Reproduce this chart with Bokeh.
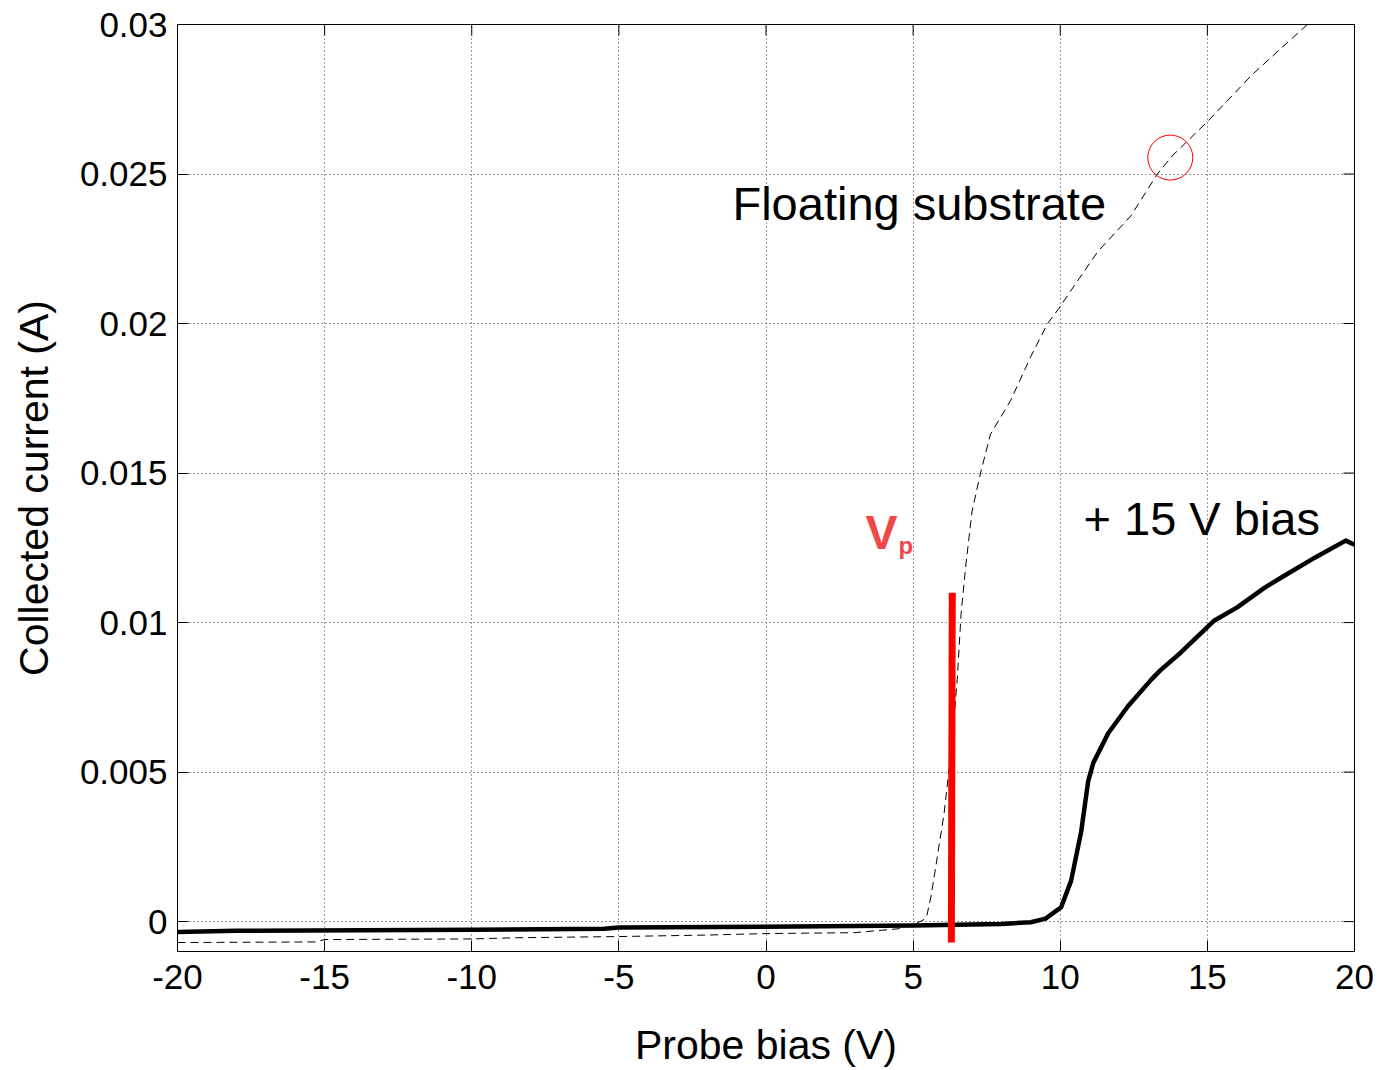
from bokeh.plotting import figure
from bokeh.models import FixedTicker, Range1d
from bokeh.core.properties import value
from bokeh.embed import file_html
from bokeh.resources import INLINE

# Floating substrate (dashed)
float_x = [-20, -15.3, -15.0, -10, -8.5, -5, -2, 0, 3, 4.5, 5.0, 5.3, 5.45, 5.6, 5.78, 6.05, 6.3, 6.5,
           6.63, 6.8, 7.0, 7.29, 7.63, 8.31, 9.0, 9.57, 9.95, 10.5, 11.27, 12.4, 13.3, 13.8,
           15.05, 16.5, 17.5, 18.4]
float_y = [-0.00070, -0.00068, -0.00060, -0.00058, -0.00054, -0.00050, -0.00045, -0.00040, -0.00037,
           -0.00024, -0.00010, 0.00003, 0.00013, 0.0008, 0.0019, 0.0036, 0.0058, 0.0081,
           0.0103, 0.0120, 0.0137, 0.0150, 0.0163, 0.01742, 0.0189, 0.0200, 0.0205, 0.0213, 0.0224,
           0.0236, 0.0250, 0.0256, 0.0268, 0.0283, 0.0292, 0.0300]

# +15 V bias (solid)
bias_x = [-20, -18, -10, -5.5, -5, 0, 5, 8, 9, 9.5, 10.03, 10.37, 10.71, 10.95, 11.12, 11.63, 12.3,
          13.1, 13.4, 14.1, 15.24, 16.0, 16.95, 17.5, 18.65, 19.7, 20]
bias_y = [-0.00035, -0.00031, -0.00027, -0.00024, -0.00020, -0.00017, -0.00013, -0.00008, -0.00002,
          0.00010, 0.00048, 0.00137, 0.0030, 0.0047, 0.0053, 0.0063, 0.0072, 0.0081, 0.0084,
          0.0090, 0.01007, 0.0105, 0.01117, 0.0115, 0.01217, 0.01274, 0.0126]

# Plasma potential marker
vp_x = [6.33, 6.30]
vp_y = [0.0110, -0.0007]
circle_x = [13.74]
circle_y = [0.02555]

x_ticks = [-20, -15, -10, -5, 0, 5, 10, 15, 20]
x_labels = ["-20", "-15", "-10", "-5", "0", "5", "10", "15", "20"]
y_ticks = [0, 0.005, 0.01, 0.015, 0.02, 0.025, 0.03]
y_labels = ["0", "0.005", "0.01", "0.015", "0.02", "0.025", "0.03"]

X0, X1 = -20, 20
Y0, Y1 = -0.001, 0.03
FONT = "Liberation Sans"
W, H = 1379, 1070
ML, MT, MR, MB = 177, 24, 25, 119
TICK = 11  # tick length, px

p = figure(width=W, height=H, output_backend="svg", toolbar_location=None,
           x_range=Range1d(X0, X1), y_range=Range1d(Y0, Y1),
           min_border_left=ML, min_border_top=MT, min_border_right=MR, min_border_bottom=MB)
p.background_fill_color = "white"
p.border_fill_color = "white"
p.outline_line_color = "black"
p.outline_line_width = 1

def style_axis(ax, ticks, labels):
    ax.ticker = FixedTicker(ticks=ticks)
    ax.major_label_overrides = {t: l for t, l in zip(ticks, labels)}
    ax.major_tick_in = TICK
    ax.major_tick_out = 0
    ax.minor_tick_line_color = None
    ax.axis_line_color = "black"
    ax.major_tick_line_color = "black"
    ax.major_label_text_font = FONT
    ax.major_label_text_color = "black"
    ax.major_label_text_font_size = "35px"
    ax.axis_label_text_font = FONT
    ax.axis_label_text_font_size = "41px"
    ax.axis_label_text_font_style = "normal"
    ax.axis_label_text_color = "black"

style_axis(p.xaxis[0], x_ticks, x_labels)
style_axis(p.yaxis[0], y_ticks, y_labels)
p.xaxis[0].major_label_standoff = 13
p.yaxis[0].major_label_standoff = 10
p.xaxis[0].axis_label = "Probe bias (V)"
p.yaxis[0].axis_label = "Collected current (A)"
p.xaxis[0].axis_label_standoff = 30
p.yaxis[0].axis_label_standoff = 20

# ticks on the top and right edges of the box (inward)
plot_w = W - ML - MR
plot_h = H - MT - MB
dx = TICK * (X1 - X0) / plot_w
dy = TICK * (Y1 - Y0) / plot_h
p.segment(x0=x_ticks, y0=[Y1] * len(x_ticks), x1=x_ticks, y1=[Y1 - dy] * len(x_ticks),
          line_color="black", line_width=1)
p.segment(x0=[X1] * len(y_ticks), y0=y_ticks, x1=[X1 - dx] * len(y_ticks), y1=y_ticks,
          line_color="black", line_width=1)

p.xgrid.ticker = FixedTicker(ticks=x_ticks)
p.ygrid.ticker = FixedTicker(ticks=y_ticks)
p.grid.grid_line_color = "#333333"
p.grid.grid_line_dash = "1 3"
p.grid.grid_line_width = 1

p.line(float_x, float_y, line_color="black", line_width=1, line_dash="8 5")
p.line(bias_x, bias_y, line_color="black", line_width=4.5, line_join="round")
p.line(vp_x, vp_y, line_color="#ff0000", line_width=7, line_cap="butt")
p.scatter(circle_x, circle_y, marker="circle", size=45, fill_color=None,
          line_color="#ff0000", line_width=1)

p.text(x=[-1.14], y=[0.02402], text=["Floating substrate"], text_font=value(FONT),
       text_font_size="47px", text_color="black", text_baseline="alphabetic", text_align="left")
p.text(x=[10.79], y=[0.01349], text=["+ 15 V bias"], text_font=value(FONT),
       text_font_size="47px", text_color="black", text_baseline="alphabetic", text_align="left")
p.text(x=[3.38], y=[0.01300], text=["V"], text_font=value(FONT), text_font_style="bold",
       text_font_size="48px", text_color="#f04848", text_baseline="alphabetic", text_align="left")
p.text(x=[4.50], y=[0.01258], text=["p"], text_font=value(FONT), text_font_style="bold",
       text_font_size="24px", text_color="#f04848", text_baseline="alphabetic", text_align="left")

open("out.html", "w").write(file_html(p, INLINE))
